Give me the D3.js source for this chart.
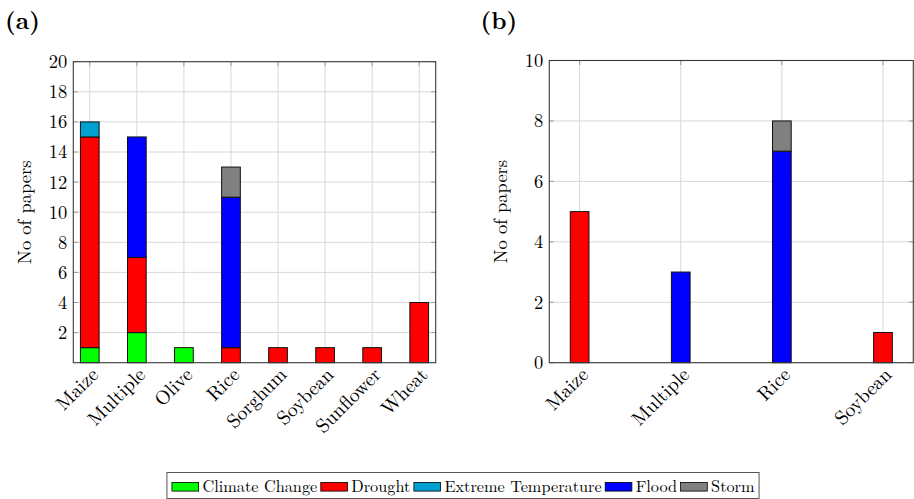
<!DOCTYPE html>
<html>
<head>
<meta charset="utf-8">
<script src="https://cdn.jsdelivr.net/npm/d3@7"></script>
<style>
  body { margin: 0; background: #fff; }
</style>
</head>
<body>
<div class="chart"></div>
<script>
var width = 914,
    height = 499,
    font = "'Latin Modern Roman', 'Liberation Serif', serif";

// series names and colours (stack order)
var series = ["Climate Change", "Drought", "Extreme Temperature", "Flood", "Storm"];
var colors = ["#00ff00", "#ff0000", "#00a0d2", "#0000ff", "#808080"];

// panel (a)
var cropsA = ["Maize", "Multiple", "Olive", "Rice", "Sorghum", "Soybean", "Sunflower", "Wheat"];
var climateA = [1, 2, 1, 0, 0, 0, 0, 0];
var droughtA = [14, 5, 0, 1, 1, 1, 1, 4];
var tempA    = [1, 0, 0, 0, 0, 0, 0, 0];
var floodA   = [0, 8, 0, 10, 0, 0, 0, 0];
var stormA   = [0, 0, 0, 2, 0, 0, 0, 0];
var ticksA = [2, 4, 6, 8, 10, 12, 14, 16, 18, 20];

// panel (b)
var cropsB = ["Maize", "Multiple", "Rice", "Soybean"];
var climateB = [0, 0, 0, 0];
var droughtB = [5, 0, 0, 1];
var tempB    = [0, 0, 0, 0];
var floodB   = [0, 3, 7, 0];
var stormB   = [0, 0, 1, 0];
var ticksB = [0, 2, 4, 6, 8, 10];

var svg = d3.select(".chart").append("svg")
    .attr("width", width)
    .attr("height", height);

function drawPanel(p) {
  var x = d3.scalePoint()
      .domain(p.crops)
      .range([p.left, p.right])
      .padding(p.pad);

  var y = d3.scaleLinear()
      .domain([0, p.ymax])
      .range([p.bottom, p.top]);

  var g = svg.append("g");

  // grid
  g.selectAll(".vgrid")
    .data(p.crops)
    .enter().append("line")
    .attr("x1", d => x(d)).attr("x2", d => x(d))
    .attr("y1", p.top).attr("y2", p.bottom)
    .attr("stroke", "#d8d8d8").attr("stroke-width", 1);

  g.selectAll(".hgrid")
    .data(p.ticks)
    .enter().append("line")
    .attr("x1", p.left).attr("x2", p.right)
    .attr("y1", d => y(d)).attr("y2", d => y(d))
    .attr("stroke", "#d8d8d8").attr("stroke-width", 1);

  // small tick marks on the inside of the frame
  var tk = 4.5;
  p.ticks.forEach(function(t) {
    [[p.left, p.left + tk], [p.right - tk, p.right]].forEach(function(s) {
      g.append("line")
        .attr("x1", s[0]).attr("x2", s[1])
        .attr("y1", y(t)).attr("y2", y(t))
        .attr("stroke", "#9a9a9a").attr("stroke-width", 1);
    });
  });
  p.crops.forEach(function(c) {
    [[p.top, p.top + tk], [p.bottom - tk, p.bottom]].forEach(function(s) {
      g.append("line")
        .attr("x1", x(c)).attr("x2", x(c))
        .attr("y1", s[0]).attr("y2", s[1])
        .attr("stroke", "#9a9a9a").attr("stroke-width", 1);
    });
  });

  // stacked bars
  var rows = p.crops.map(function(c, i) {
    var r = { crop: c };
    series.forEach(function(s, j) { r[s] = p.values[j][i]; });
    return r;
  });
  var stack = d3.stack().keys(series)(rows);
  var bw = 18.7;

  stack.forEach(function(layer, j) {
    g.selectAll(".bar" + j)
      .data(layer.filter(d => d[1] - d[0] > 0))
      .enter().append("rect")
      .attr("x", d => x(d.data.crop) - bw / 2)
      .attr("y", d => y(d[1]))
      .attr("width", bw)
      .attr("height", d => y(d[0]) - y(d[1]))
      .attr("fill", colors[j])
      .attr("stroke", "#111")
      .attr("stroke-width", 1);
  });

  // frame
  g.append("rect")
    .attr("x", p.left).attr("y", p.top)
    .attr("width", p.right - p.left)
    .attr("height", p.bottom - p.top)
    .attr("fill", "none")
    .attr("stroke", "#3a3a3a")
    .attr("stroke-width", 1.1);

  // y axis
  var yAxis = d3.axisLeft(y).tickValues(p.ticks).tickSize(0).tickPadding(6);
  var ya = g.append("g")
    .attr("transform", "translate(" + p.left + ",0)")
    .call(yAxis);
  ya.select(".domain").remove();
  ya.selectAll("text")
    .style("font-family", font)
    .style("font-size", "18.5px")
    .attr("fill", "#000");

  // x axis labels
  var xAxis = d3.axisBottom(x).tickSize(0).tickPadding(0);
  var xa = g.append("g")
    .attr("transform", "translate(0," + p.bottom + ")")
    .call(xAxis);
  xa.select(".domain").remove();
  xa.selectAll("text")
    .style("font-family", font)
    .style("font-size", "19.5px")
    .attr("fill", "#000")
    .attr("text-anchor", "end")
    .attr("dy", "0.3em")
    .attr("y", 0)
    .attr("transform", "translate(5,9) rotate(-45)");

  // y label
  svg.append("text")
    .attr("transform", "translate(" + p.ylabX + "," + ((p.top + p.bottom) / 2) + ") rotate(-90)")
    .attr("text-anchor", "middle")
    .style("font-family", font)
    .style("font-size", "18.5px")
    .text("No of papers");

  // panel title
  svg.append("text")
    .attr("x", p.titleX).attr("y", 29)
    .style("font-family", font)
    .style("font-size", "24px")
    .style("font-weight", "bold")
    .text(p.title);
}

drawPanel({
  crops: cropsA,
  values: [climateA, droughtA, tempA, floodA, stormA],
  ticks: ticksA, ymax: 20,
  left: 73.3, right: 435.7, top: 61.7, bottom: 362.7, pad: 0.35,
  ylabX: 31, titleX: 5, title: "(a)"
});

drawPanel({
  crops: cropsB,
  values: [climateB, droughtB, tempB, floodB, stormB],
  ticks: ticksB, ymax: 10,
  left: 549.3, right: 913.3, top: 60.5, bottom: 362.7, pad: 0.3,
  ylabX: 507, titleX: 480.5, title: "(b)"
});

// legend
var leg = svg.append("g");
var lx = 0;
series.forEach(function(s, i) {
  var it = leg.append("g").attr("transform", "translate(" + lx + ",0)");
  it.append("rect")
    .attr("x", 0).attr("y", -4.3)
    .attr("width", 26.7).attr("height", 8.7)
    .attr("fill", colors[i])
    .attr("stroke", "#000").attr("stroke-width", 0.8);
  var t = it.append("text")
    .attr("x", 30.5).attr("y", 5.2)
    .style("font-family", font)
    .style("font-size", "16.3px")
    .text(s);
  lx += 30.5 + t.node().getComputedTextLength() + 3.5;
});
var legW = lx + 6;
var legX = 463 - legW / 2;
leg.attr("transform", "translate(" + (legX + 5) + ",486.7)");
svg.insert("rect", "g")
  .attr("x", legX).attr("y", 472.5)
  .attr("width", legW).attr("height", 26)
  .attr("fill", "#fff")
  .attr("stroke", "#555").attr("stroke-width", 1);
</script>
</body>
</html>
